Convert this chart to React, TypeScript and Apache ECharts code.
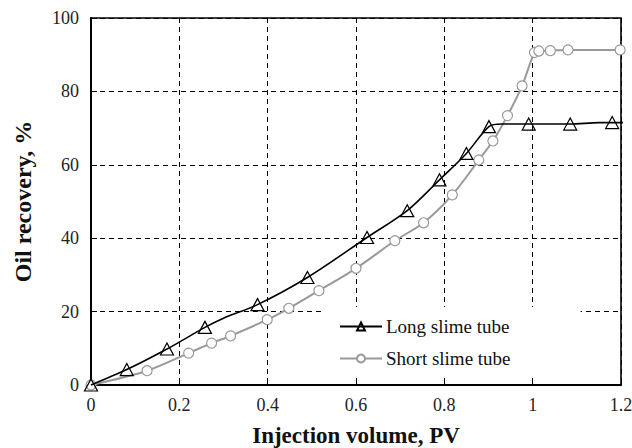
import React, { useEffect, useRef } from "react";
import * as echarts from "echarts";

const longX = [0, 0.081, 0.172, 0.258, 0.30, 0.377, 0.49, 0.625, 0.716, 0.789, 0.85, 0.901, 0.93, 0.991, 1.085, 1.15, 1.18, 1.222];
const longY = [0, 4.2, 9.8, 15.7, 18.2, 21.9, 29.3, 40.2, 47.5, 55.9, 63.1, 70.4, 71.1, 71.1, 71.1, 71.5, 71.5, 71.5];
const longMarked = [true, true, true, true, false, true, true, true, true, true, true, true, false, true, true, false, true, false];

const shortX = [0, 0.127, 0.221, 0.273, 0.316, 0.399, 0.448, 0.516, 0.6, 0.688, 0.753, 0.818, 0.878, 0.91, 0.943, 0.976, 1.004, 1.014, 1.04, 1.08, 1.198];
const shortY = [0, 3.9, 8.7, 11.4, 13.4, 17.8, 20.9, 25.7, 31.8, 39.3, 44.2, 51.8, 61.3, 66.5, 73.4, 81.5, 90.6, 91.0, 91.1, 91.3, 91.3];

const xTicks = [0, 0.2, 0.4, 0.6, 0.8, 1, 1.2];
const yTicks = [0, 20, 40, 60, 80, 100];

const seriesNames = ["Long slime tube", "Short slime tube"];

const FONT = "'Liberation Serif', 'Times New Roman', 'DejaVu Serif', serif";

export default function App() {
  const ref = useRef<HTMLDivElement>(null);
  useEffect(() => {
    if (!ref.current) return;
    const chart = echarts.init(ref.current, null, { renderer: "svg" });
    const longData = longX.map((x, i) => ({
      value: [x, longY[i]],
      symbol: longMarked[i] ? "triangle" : "none",
    }));
    const shortData = shortX.map((x, i) => [x, shortY[i]]);
    chart.setOption({
      animation: false,
      backgroundColor: "#fff",
      textStyle: { fontFamily: FONT },
      grid: {
        left: 91,
        right: 11,
        top: 18,
        bottom: 63,
        outerBoundsMode: "none",
        containLabel: false,
        show: true,
        borderColor: "#000",
        borderWidth: 1.6,
        backgroundColor: "transparent",
      },
      legend: {
        left: 323,
        top: 307,
        orient: "vertical",
        backgroundColor: "#fff",
        padding: [10, 70, 6, 16],
        itemWidth: 42,
        itemHeight: 10,
        itemGap: 13,
        textStyle: { fontFamily: FONT, fontSize: 19, lineHeight: 19, color: "#111", padding: [0, 0, 0, -1] },
        data: seriesNames,
      },
      xAxis: {
        type: "value",
        min: 0,
        max: 1.2,
        interval: 0.2,
        name: "Injection volume, PV",
        nameLocation: "middle",
        nameGap: 39,
        nameTextStyle: { fontFamily: FONT, fontSize: 23, fontWeight: "bold", color: "#111" },
        axisLine: { show: true, lineStyle: { color: "#000", width: 2 } },
        axisTick: { show: true, inside: true, length: 6, lineStyle: { color: "#000", width: 1 } },
        axisLabel: {
          fontFamily: FONT,
          fontSize: 18,
          color: "#222",
          margin: 11,
          formatter: (v: number) => {
            const t = xTicks.find((k) => Math.abs(k - v) < 1e-6);
            return t === undefined ? "" : String(t);
          },
        },
        splitLine: { show: true, lineStyle: { color: "#000", width: 1, type: [5, 4] } },
      },
      yAxis: {
        type: "value",
        min: 0,
        max: 100,
        interval: 20,
        name: "Oil recovery, %",
        nameLocation: "middle",
        nameGap: 56,
        nameTextStyle: { fontFamily: FONT, fontSize: 24, fontWeight: "bold", color: "#111" },
        axisLine: { show: true, lineStyle: { color: "#000", width: 2 } },
        axisTick: { show: true, inside: true, length: 6, lineStyle: { color: "#000", width: 1 } },
        axisLabel: {
          fontFamily: FONT,
          fontSize: 18,
          color: "#222",
          margin: 12,
          formatter: (v: number) => {
            const t = yTicks.find((k) => Math.abs(k - v) < 1e-6);
            return t === undefined ? "" : String(t);
          },
        },
        splitLine: { show: true, lineStyle: { color: "#000", width: 1, type: [5, 4] } },
      },
      series: [
        {
          name: seriesNames[1],
          type: "line",
          data: shortData,
          smooth: 0.3,
          symbol: "circle",
          symbolSize: 10,
          lineStyle: { color: "#999", width: 2 },
          itemStyle: { color: "#fff", borderColor: "#999", borderWidth: 1.2 },
          z: 2,
        },
        {
          name: seriesNames[0],
          type: "line",
          data: longData,
          smooth: 0.3,
          clip: false,
          symbol: "triangle",
          symbolSize: [13, 12],
          lineStyle: { color: "#000", width: 1.6 },
          itemStyle: { color: "rgba(255,255,255,0)", borderColor: "#000", borderWidth: 1.2 },
          z: 3,
        },
      ],
    });
    return () => chart.dispose();
  }, []);
  return <div ref={ref} style={{ width: 632, height: 448, position: "absolute", left: 0, top: 0 }} />;
}
